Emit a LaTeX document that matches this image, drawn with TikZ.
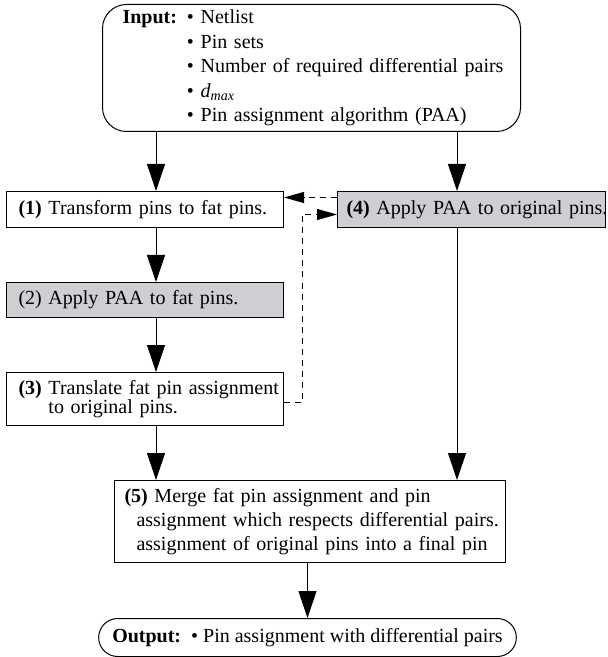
\documentclass[tikz,border=0pt]{standalone}
\usepackage{fontspec}
\setmainfont{Liberation Serif}
\usetikzlibrary{%
  arrows.meta,%
  positioning,%
  shapes.misc% wg. rounded rectangle
}
\definecolor{stepgray}{RGB}{208,206,210}

\begin{document}
\begin{tikzpicture}
[x=0.5pt, y=-0.5pt, line width=0.5pt, >={Triangle[length=13.5pt,width=9pt]},
every node/.style={font=\fontsize{10}{12}\selectfont},
stepbox/.style={rectangle, draw=black, anchor=north west, align=left, inner xsep=6pt, inner ysep=0pt, minimum height=18pt, text width=126.5pt},
greybox/.style={stepbox, fill=stepgray},
feedback/.style={dash pattern=on 3pt off 2.5pt, -{Triangle[length=10pt,width=5.5pt]}}]

\useasboundingbox (0,0) rectangle (607,657);

\node[draw, rounded corners=12pt, anchor=north west, align=left, inner xsep=10pt, inner ysep=0pt,
      text width=189pt, minimum height=63.5pt, font=\fontsize{10}{12.25}\selectfont] (input) at (102,4)
  {\begin{tabular}{@{}l@{\hspace{5pt}}l@{}}
   \textbf{Input:} & \textbullet\ Netlist\\
   & \textbullet\ Pin sets\\
   & \textbullet\ Number of required differential pairs\\
   & \textbullet\ \textit{d}\textsubscript{\textit{max}}\\
   & \textbullet\ Pin assignment algorithm (PAA)
   \end{tabular}};

\node[stepbox] (transform) at (6,191) {\mbox{\textbf{(1)} Transform pins to fat pins.}};
\node[greybox, minimum height=17.5pt] (applyfat) at (6,282) {\mbox{(2) Apply PAA to fat pins.}};
\node[stepbox, minimum height=26.5pt, font=\fontsize{10}{9.5}\selectfont] (translate) at (6,372)
  {\mbox{\textbf{(3)} Translate fat pin assignment}\\\hphantom{\textbf{(3)} }to original pins.};
\node[greybox, inner xsep=4.5pt, text width=125pt] (applyorig) at (337,191) {\mbox{\textbf{(4)} Apply PAA to original pins.}};
\node[stepbox, minimum height=41pt, inner xsep=5pt, text width=185.5pt] (merge) at (114,480)
  {\mbox{\textbf{(5)} Merge fat pin assignment and pin}\\
   \mbox{\hspace*{6pt}assignment which respects differential pairs.}\\
   \mbox{\hspace*{6pt}assignment of original pins into a final pin}};
\node[draw, rounded rectangle, anchor=north, minimum width=215.5pt, minimum height=19pt, inner ysep=0pt] (output) at (307.5,618)
  {\textbf{Output:}\ \ \textbullet\ Pin assignment with differential pairs};

\coordinate (lcol) at (156,0);
\coordinate (rcol) at (457,0);

\draw[->] (input.south -| lcol) -- (transform.north -| lcol);
\draw[->] (input.south -| rcol) -- (applyorig.north -| rcol);
\draw[->] (transform.south -| lcol) -- (applyfat.north -| lcol);
\draw[->] (applyfat.south -| lcol) -- (translate.north -| lcol);
\draw[->] (translate.south -| lcol) -- (merge.north -| lcol);
\draw[->] (applyorig.south -| rcol) -- (merge.north -| rcol);
\draw[->] (merge.south -| output.north) -- (output.north);

\draw[feedback] ([yshift=6pt]applyorig.west) -- ([yshift=6pt]transform.east);
\draw[feedback] ([yshift=-1.75pt]translate.east) -- ++(18,0) |- ([yshift=-2.5pt]applyorig.west);
\end{tikzpicture}
\end{document}
